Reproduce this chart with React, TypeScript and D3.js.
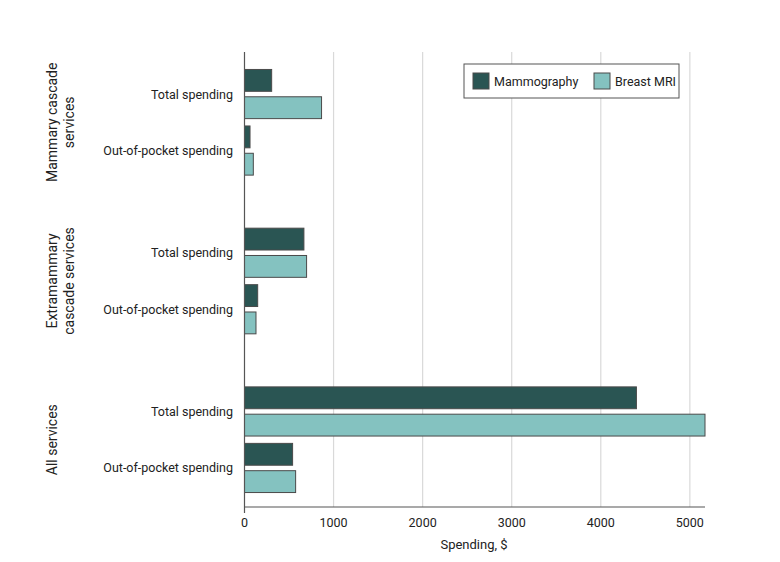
import React from "react";
import * as d3 from "d3";

const groups = ["Mammary cascade services", "Extramammary cascade services", "All services"];
const groupLabelLines = [["Mammary cascade", "services"], ["Extramammary", "cascade services"], ["All services"]];
const measures = ["Total spending", "Out-of-pocket spending"];
const seriesNames = ["Mammography", "Breast MRI"];
// values[group][measure] for each series
const mammography = [
  [305, 62],
  [667, 148],
  [4400, 540],
];
const breastMRI = [
  [865, 99],
  [697, 129],
  [5170, 574],
];
const xTicks = [0, 1000, 2000, 3000, 4000, 5000];
const colors = ["#2a5553", "#84c2c0"];

const W = 780, H = 562;
const left = 244.5, right = 705, top = 52, bottom = 507;
const FONT = "'Liberation Sans Narrow', 'Roboto', 'Noto Sans', sans-serif";

export default function App() {
  const x = d3.scaleLinear().domain([0, 5170]).range([left, right]);
  const yGroup = d3.scalePoint<string>().domain(groups).range([55, 507]).padding(0.424);
  const yMeasure = d3.scaleBand<string>().domain(measures).range([-56.5, 56.5]).paddingInner(0.13).paddingOuter(0.065);
  const ySeries = d3.scaleBand<string>().domain(seriesNames).range([0, yMeasure.bandwidth()]).paddingInner(0.2);
  const data = [mammography, breastMRI];

  return (
    <svg width={W} height={H} style={{ position: "absolute", left: 0, top: 0, background: "#fff" }} fontFamily={FONT}>
      {xTicks.filter((t) => t > 0).map((t) => (
        <line key={t} x1={x(t)} x2={x(t)} y1={top} y2={bottom} stroke="#d9d9d9" strokeWidth={1.2} />
      ))}
      {groups.map((g, gi) => {
        const gc = yGroup(g)!;
        return (
          <g key={g}>
            {measures.map((m, mi) => {
              const m0 = gc + yMeasure(m)!;
              return (
                <g key={m}>
                  <text x={233} y={m0 + yMeasure.bandwidth() / 2} textAnchor="end" dominantBaseline="central" fontSize={12.5} fill="#222">{m}</text>
                  {seriesNames.map((s, si) => (
                    <rect key={s} x={x(0)} y={m0 + ySeries(s)!} width={x(data[si][gi][mi]) - x(0)} height={ySeries.bandwidth()}
                      fill={colors[si]} stroke="#4a4a4a" strokeWidth={1} />
                  ))}
                </g>
              );
            })}
            <text transform={`translate(${52},${gc}) rotate(-90)`} textAnchor="middle" fontSize={14} fill="#222">
              {groupLabelLines[gi].map((ln, li) => (
                <tspan key={li} x={0} dy={li === 0 ? "0.35em" : 17}>{ln}</tspan>
              ))}
            </text>
          </g>
        );
      })}
      <line x1={left} x2={left} y1={top} y2={bottom + 6} stroke="#555" strokeWidth={1.2} />
      <line x1={left} x2={right} y1={bottom} y2={bottom} stroke="#555" strokeWidth={1.2} />
      {xTicks.map((t) => (
        <text key={t} x={x(t)} y={522} textAnchor="middle" dominantBaseline="central" fontSize={12.5} fill="#222">{t}</text>
      ))}
      <text x={474} y={544} textAnchor="middle" dominantBaseline="central" fontSize={13} fill="#222">Spending, $</text>
      <g>
        <rect x={464} y={64} width={215} height={34} fill="#fff" stroke="#555" strokeWidth={1} />
        {seriesNames.map((s, i) => {
          const sx = [473, 594][i];
          return (
            <g key={s}>
              <rect x={sx} y={73} width={16} height={16} fill={colors[i]} stroke="#4a4a4a" strokeWidth={1} />
              <text x={sx + 21} y={81} dominantBaseline="central" fontSize={12.5} fill="#222">{s}</text>
            </g>
          );
        })}
      </g>
    </svg>
  );
}
